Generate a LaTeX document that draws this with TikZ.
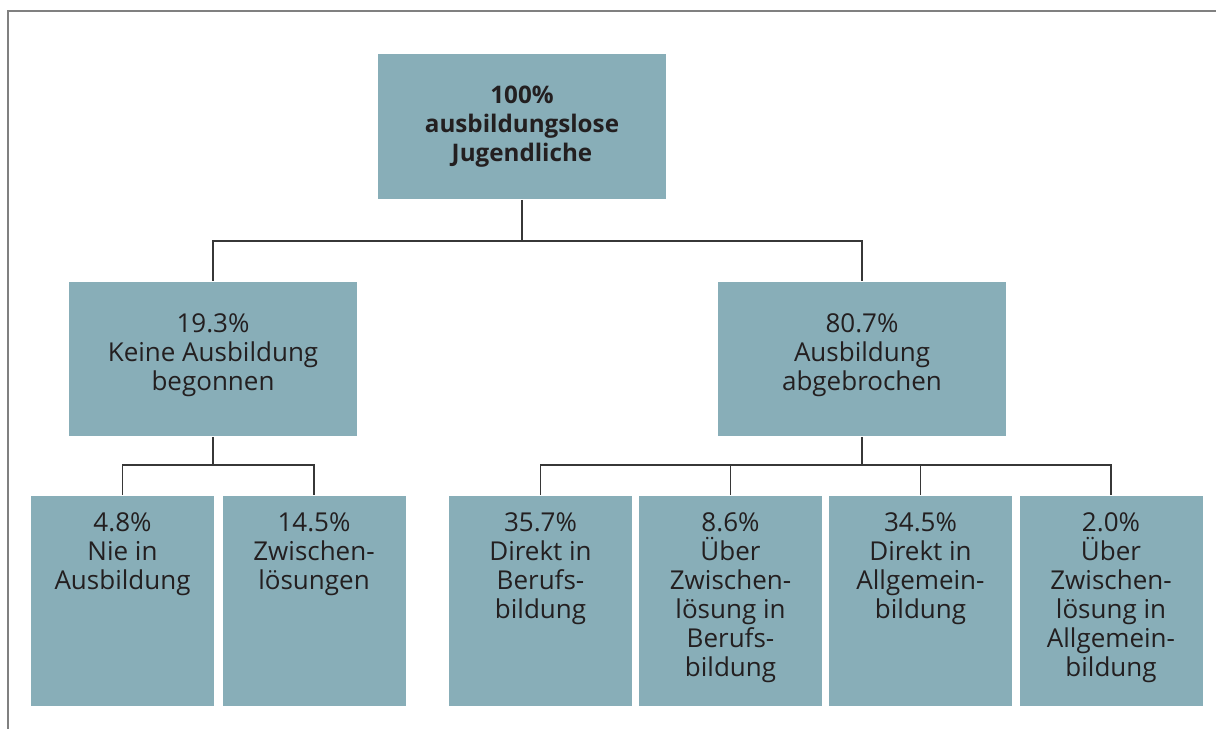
\documentclass[tikz,border=0pt]{standalone}
\usepackage{fontspec}
\setmainfont{Open Sans}
\usepackage{tikz}
\usetikzlibrary{calc}
\usetikzlibrary{positioning}

\definecolor{boxfill}{RGB}{136,174,184}
\definecolor{textgray}{RGB}{35,31,32}
\definecolor{linegray}{RGB}{55,55,55}

\newcommand{\midtext}[1]{\parbox[c][77pt][c]{140pt}{\centering #1\par\vspace{3.5pt}}}
\newcommand{\leaftext}[1]{\parbox[c][90pt][t]{90pt}{\lineskiplimit=-20pt\centering\strut #1}}

\begin{document}
\begin{tikzpicture}[x=0.5pt,y=-0.5pt,thick,
    main node/.style={rectangle,fill=boxfill,text=textgray,align=center,inner sep=0pt,
        font=\fontsize{13}{14.5}\selectfont},
    top node/.style={main node,minimum width=144pt,minimum height=72.5pt,
        font=\fontsize{12.1}{14.5}\selectfont\bfseries},
    mid node/.style={main node,minimum width=144pt,minimum height=77pt},
    leaf node/.style={main node,minimum width=91.5pt,inner ysep=7.5pt},
    conn/.style={draw=linegray,line width=0.8pt}]

    \useasboundingbox (0,0) rectangle (1216,729);
    \draw[gray,line width=0.6pt] (1216,11) -- (8,11) -- (8,729);

    \node[top node] (total) at (522,126.5) {100\%\\ausbildungslose\\Jugendliche};

    \node[mid node] (none) at (213,359) {\midtext{19.3\%\\Keine Ausbildung\\begonnen}};
    \node[mid node] (broken) at (862,359) {\midtext{80.7\%\\Ausbildung\\abgebrochen}};

    \node[leaf node] (never) at (122.5,601) {\leaftext{4.8\%\\Nie in\\Ausbildung}};
    \node[leaf node] (interim) at (314,601) {\leaftext{14.5\%\\Zwischen-\\lösungen}};
    \node[leaf node] (direct-voc) at (540.5,601) {\leaftext{35.7\%\\Direkt in\\Berufs-\\bildung}};
    \node[leaf node] (interim-voc) at (730.5,601) {\leaftext{8.6\%\\Über\\Zwischen-\\lösung in\\Berufs-\\bildung}};
    \node[leaf node] (direct-gen) at (920.5,601) {\leaftext{34.5\%\\Direkt in\\Allgemein-\\bildung}};
    \node[leaf node] (interim-gen) at (1111,601) {\leaftext{2.0\%\\Über\\Zwischen-\\lösung in\\Allgemein-\\bildung}};

    % top level
    \path[conn] (total.south) -- ++(0,41) coordinate (split-top);
    \path[conn] (split-top) -| (none.north);
    \path[conn] (split-top) -| (broken.north);

    % left branch
    \path[conn] (none.south) -- ++(0,28) coordinate (split-left);
    \path[conn] (split-left) -| (never.north);
    \path[conn] (split-left) -| (interim.north);

    % right branch
    \path[conn] (broken.south) -- ++(0,28) coordinate (split-right);
    \foreach \leaf in {direct-voc,interim-voc,direct-gen,interim-gen}
        \path[conn] (split-right) -| (\leaf.north);

\end{tikzpicture}
\end{document}
